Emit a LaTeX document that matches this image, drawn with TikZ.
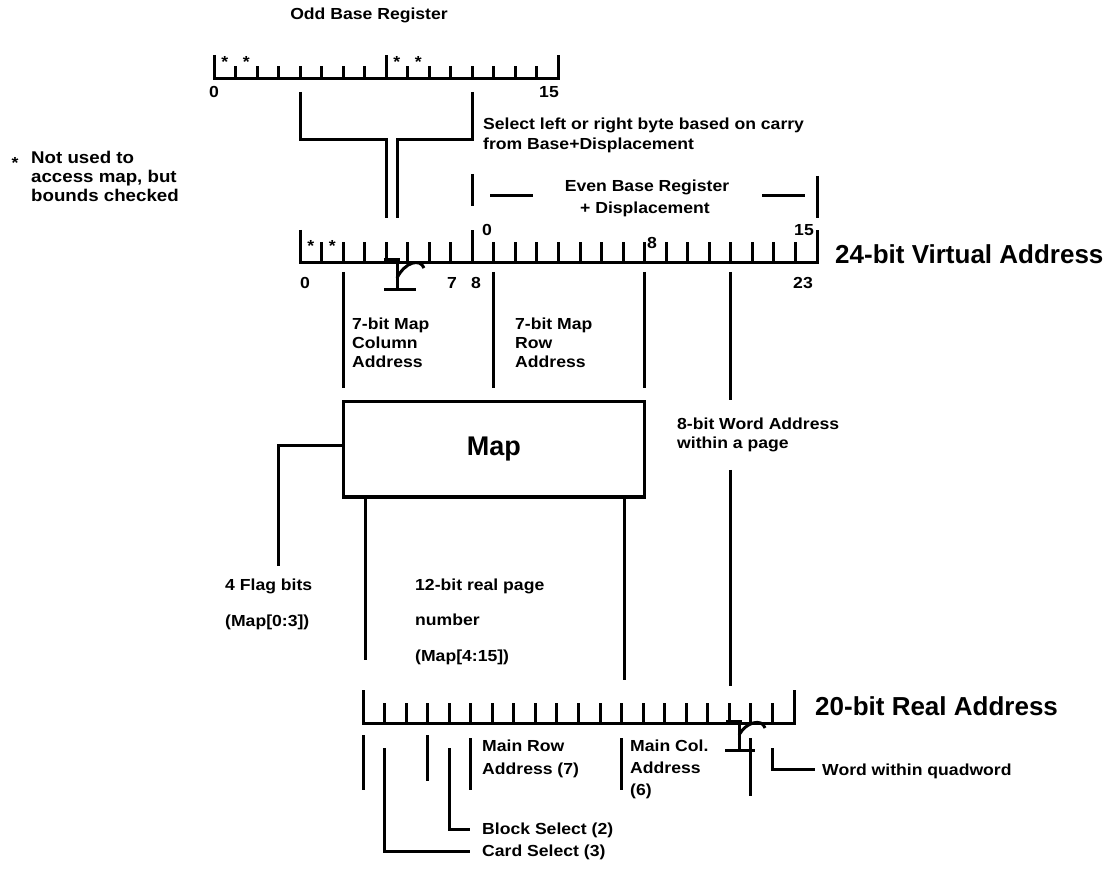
\documentclass[tikz,border=0pt]{standalone}
\usepackage{fontspec}
\setmainfont{Liberation Sans}[FakeStretch=1.1]
\newfontfamily\bigfont{Liberation Sans}
\tikzset{
  ln/.style={line width=3pt},
  lbl/.style={font=\bfseries\fontsize{16}{19}\selectfont, inner sep=0pt, anchor=base west},
  num/.style={font=\bfseries\fontsize{16}{19}\selectfont, inner sep=0pt, anchor=base},
  big/.style={font=\bigfont\bfseries\fontsize{26}{30}\selectfont, inner sep=0pt, anchor=base west},
}
\begin{document}
\begin{tikzpicture}[x=1pt,y=-1pt]
  \useasboundingbox (0,0) rectangle (1117,890);
  % Odd base register
  \node[num] (oddtitle) at (369,20) {Odd Base Register};
  \draw[ln] (214,55) -- (214,79) -- (558,79) -- (558,55);
  \foreach \i in {1,...,15} \draw[ln] ({214+21.5*\i},79) -- ++(0,-13);
  \draw[ln] (386,79) -- (386,55);
  \foreach \i/\n in {0/sa,1/sb,8/sc,9/sd}
    \node[num] (odd\n) at ({224.7+21.5*\i},68) {*};
  \node[num] (oddlo) at (214,98) {0};
  \node[num, anchor=base east] (oddhi) at (559,98) {15};
  % Byte select
  \draw[ln] (300,92) -- (300,140) -- (386,140) -- (386,218);
  \draw[ln] (472,92) -- (472,140) -- (397,140) -- (397,218);
  \node[lbl] (select) at (483,130) {Select left or right byte based on carry};
  \node[lbl] (select2) at (483,150) {from Base+Displacement};
  % Footnote
  \node[num] (star) at (15,169) {*};
  \node[lbl, align=left, anchor=north west, font=\bfseries\fontsize{17}{19}\selectfont] (note) at (31,150.5) {Not used to\\access map, but\\bounds checked};
  % Even base register + displacement
  \draw[ln] (472,174) -- (472,206);
  \draw[ln] (817,176) -- (817,218);
  \draw[ln] (490,196) -- (533,196);
  \draw[ln] (762,196) -- (805,196);
  \node[num] (even) at (647,192) {Even Base Register};
  \node[num] (disp) at (645,214) {+ Displacement};
  % 24-bit virtual address
  \draw[ln] (300,230) -- (300,263) -- (817,263) -- (817,230);
  \foreach \i in {1,...,23} \draw[ln] ({300+21.54*\i},263) -- ++(0,-21);
  \draw[ln] (472.3,263) -- (472.3,230);
  \foreach \i/\n in {0/sa,1/sb}
    \node[num] (virt\n) at ({310.8+21.54*\i},252) {*};
  \node[num] (virt0) at (305,289) {0};
  \node[num] (virt7) at (452,289) {7};
  \node[num] (virt8) at (476,289) {8};
  \node[num] (virt23) at (803,289) {23};
  \node[num] (even0) at (487,236) {0};
  \node[num] (even8) at (652,249) {8};
  \node[num, anchor=base east] (even15) at (814,236) {15};
  \node[big] (virttitle) at (835,264) {24-bit Virtual Address};
  % I-beam mark
  \draw[ln] (384,260) -- (400,260) (397,260) -- (397,290) (384,290) -- (416,290);
  \draw[ln] (397,278) .. controls (405,262) and (420,258) .. (424,268);
  % Map address fields
  \draw[ln] (343.1,272) -- (343.1,388);
  \draw[ln] (493.9,272) -- (493.9,388);
  \draw[ln] (644.6,272) -- (644.6,388);
  \draw[ln] (730.8,272) -- (730.8,400);
  \draw[ln] (730.8,470) -- (730.8,686);
  \node[lbl, align=left, anchor=north west] (colad) at (352,317.5) {7-bit Map\\Column\\Address};
  \node[lbl, align=left, anchor=north west] (rowad) at (515,317.5) {7-bit Map\\Row\\Address};
  \node[lbl, align=left, anchor=north west] (wordad) at (677,417.5) {8-bit Word Address\\within a page};
  % Map
  \node[draw, line width=3pt, minimum width=301.5pt, minimum height=95pt, inner sep=0pt,
        font=\bigfont\bfseries\fontsize{27}{30}\selectfont] (map) at (493.9,449.5) {Map};
  \draw[ln] (map.west |- 0,446) -- (278,446) -- (278,566);
  \draw[ln] (365,497) -- (365,660);
  \draw[ln] (624,497) -- (624,680);
  \node[lbl] (flag1) at (225,590) {4 Flag bits};
  \node[lbl] (flag2) at (225,626) {(Map[0:3])};
  \node[lbl] (page1) at (415,590) {12-bit real page};
  \node[lbl] (page2) at (415,625) {number};
  \node[lbl] (page3) at (415,661) {(Map[4:15])};
  % 20-bit real address
  \draw[ln] (363,690) -- (363,723) -- (794,723) -- (794,690);
  \foreach \i in {1,...,19} \draw[ln] ({363+21.55*\i},723) -- ++(0,-20);
  \node[big] (realtitle) at (815,715) {20-bit Real Address};
  % I-beam mark
  \draw[ln] (726,721) -- (742,721) (739,721) -- (739,750) (725,750) -- (755,750);
  \draw[ln] (739,735) .. controls (746,722) and (762,718) .. (765,728);
  % Real address fields
  \draw[ln] (363,735) -- (363,790);
  \draw[ln] (384.5,748) -- (384.5,851) -- (470,851);
  \draw[ln] (427.6,735) -- (427.6,781);
  \draw[ln] (449,748) -- (449,829) -- (470,829);
  \draw[ln] (470.7,738) -- (470.7,790);
  \draw[ln] (621.6,738) -- (621.6,790);
  \draw[ln] (750.9,738) -- (750.9,796);
  \draw[ln] (772,748) -- (772,769) -- (815,769);
  \node[lbl, align=left, anchor=north west, font=\bfseries\fontsize{16}{23}\selectfont] (mainrow) at (482,739.5) {Main Row\\Address (7)};
  \node[lbl, align=left, anchor=north west, font=\bfseries\fontsize{16}{22}\selectfont] (maincol) at (630,739.5) {Main Col.\\Address\\(6)};
  \node[lbl] (word) at (822,775) {Word within quadword};
  \node[lbl] (block) at (482,834) {Block Select (2)};
  \node[lbl] (card) at (482,856) {Card Select (3)};
\end{tikzpicture}
\end{document}
